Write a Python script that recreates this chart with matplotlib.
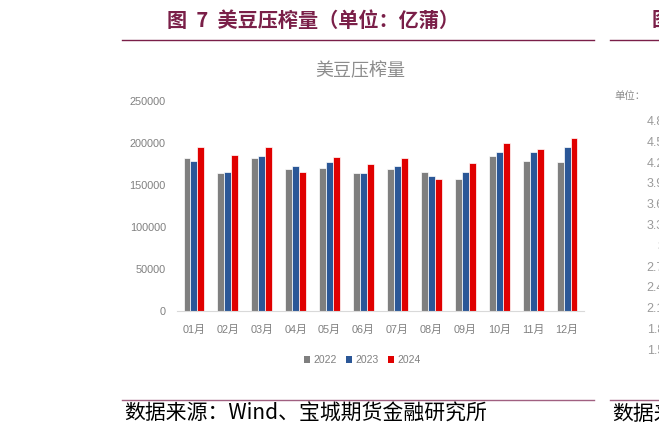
import numpy as np
import matplotlib
matplotlib.use("Agg")
import matplotlib.pyplot as plt
from matplotlib.patches import Patch

plt.rcParams['font.family'] = ['Liberation Sans', 'Noto Sans CJK SC', 'DejaVu Sans']

months = ['01月', '02月', '03月', '04月', '05月', '06月',
          '07月', '08月', '09月', '10月', '11月', '12月']
y2022 = [181500, 163700, 181500, 168800, 170000, 164000,
         169200, 164900, 157000, 184300, 178700, 177200]
y2023 = [178000, 164900, 184700, 172400, 177200, 164000,
         172400, 160100, 164900, 189400, 188700, 194600]
y2024 = [194600, 185900, 195400, 165600, 183100, 174400,
         182300, 157000, 176300, 199400, 192600, 206000]
years = ['2022', '2023', '2024']
colors = ['#7f7f7f', '#2b5797', '#e00000']

# cut-off neighbour chart on the right edge of the page
side_ticks = ['4.8', '4.5', '4.2', '3.9', '3.6', '3.3', '3',
              '2.7', '2.4', '2.1', '1.8', '1.5']

W, H = 659, 432
fig = plt.figure(figsize=(W / 100, H / 100), dpi=100)
fig.patch.set_facecolor('white')


def fx(px):
    return px / W


def fy(py):
    return 1 - py / H


maroon = '#7a1f48'
ax = fig.add_axes([fx(177), fy(311), fx(584) - fx(177), fy(100.7) - fy(311)])

x = np.arange(len(months))
bw = 0.205
for i, (vals, c) in enumerate(zip([y2022, y2023, y2024], colors)):
    ax.bar(x + (i - 1) * bw, vals, width=bw, color=c, edgecolor='white', linewidth=0.5)

ax.set_xlim(-0.5, 11.5)
ax.set_ylim(0, 250000)
ax.set_yticks(range(0, 250001, 50000))
ax.set_yticklabels([str(v) for v in range(0, 250001, 50000)])
ax.set_xticks(x)
ax.set_xticklabels(months)
ax.tick_params(axis='both', length=0, colors='#808080', labelsize=7.8)
ax.tick_params(axis='y', pad=8)
ax.tick_params(axis='x', pad=10)
for s in ['top', 'right', 'left']:
    ax.spines[s].set_visible(False)
ax.spines['bottom'].set_color('#d9d9d9')

fig.text(fx(360), fy(71), '美豆压榨量', ha='center', va='center',
         fontsize=13, color='#8c8c8c', family=['Noto Sans CJK SC'])

handles = [Patch(facecolor=c, edgecolor='none') for c in colors]
fig.legend(handles, years, loc='center', bbox_to_anchor=(fx(362), fy(360)), ncol=3,
           frameon=False, fontsize=7.5, handlelength=0.6, handleheight=0.6,
           handletextpad=0.3, columnspacing=0.9, labelcolor='#808080')

# page decorations: figure caption, rules and source note
fig.text(fx(167), fy(20), '图  7  美豆压榨量（单位：亿蒲）', ha='left', va='center',
         fontsize=14.5, fontweight='bold', color=maroon, family=['Noto Sans CJK SC'])
fig.text(fx(652), fy(20), '图', ha='left', va='center',
         fontsize=14.5, fontweight='bold', color=maroon, family=['Noto Sans CJK SC'])
fig.add_artist(plt.Line2D([fx(122), fx(594)], [fy(39.5), fy(39.5)], color=maroon, lw=1))
fig.add_artist(plt.Line2D([fx(610), fx(659)], [fy(39.5), fy(39.5)], color=maroon, lw=1))
fig.add_artist(plt.Line2D([fx(122), fx(594)], [fy(399.5), fy(399.5)], color='#a06080', lw=1))
fig.add_artist(plt.Line2D([fx(610), fx(659)], [fy(399.5), fy(399.5)], color='#a06080', lw=1))
fig.text(fx(124), fy(414), '数据来源：Wind、宝城期货金融研究所', ha='left', va='center',
         fontsize=15, color='black', family=['Noto Sans CJK SC'])
fig.text(fx(612), fy(414), '数据来源', ha='left', va='center',
         fontsize=15, color='black', family=['Noto Sans CJK SC'])

fig.text(fx(614), fy(96), '单位：', ha='left', va='center',
         fontsize=7.5, color='#8c8c8c', family=['Noto Sans CJK SC'])
for k, t in enumerate(side_ticks):
    fig.text(fx(664), fy(122 + k * 20.8), t, ha='right', va='center',
             fontsize=9, color='#9a9a9a')

fig.savefig('out.png', dpi=100)
